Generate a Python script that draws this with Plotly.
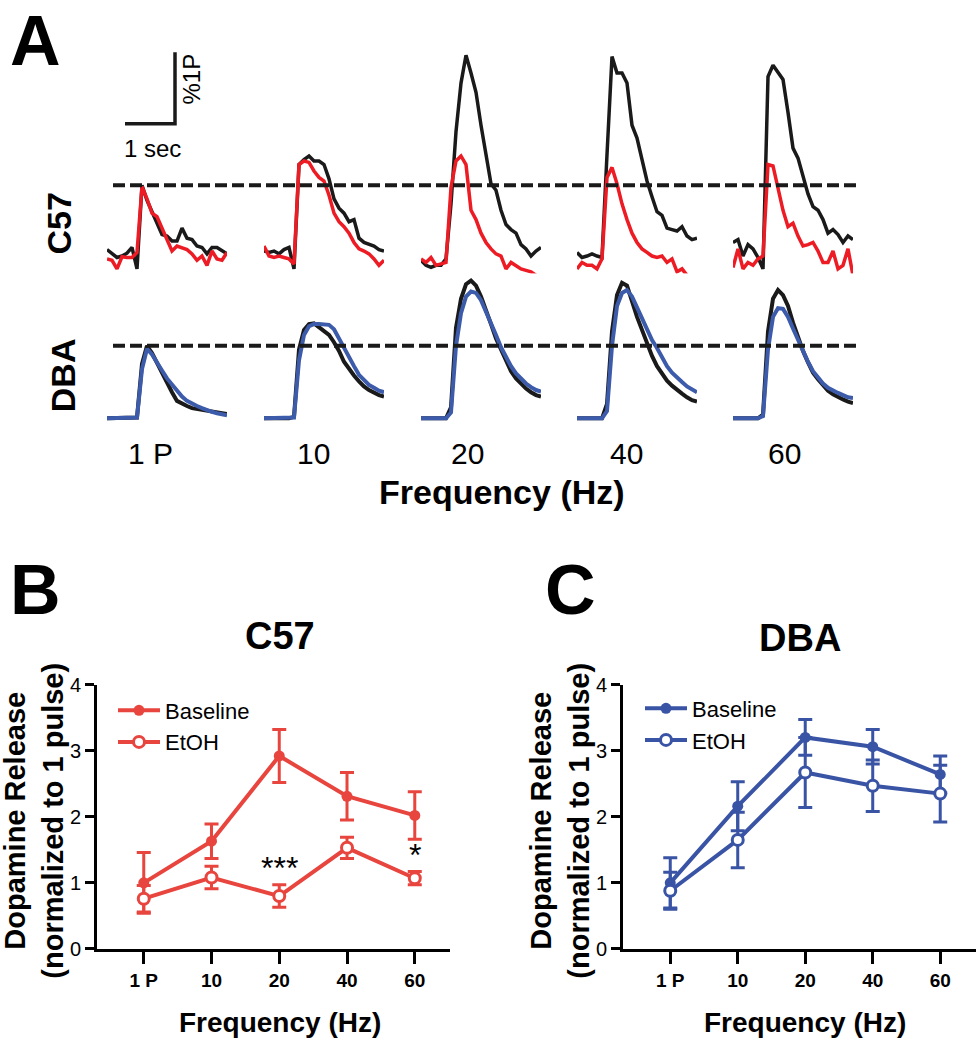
import plotly.graph_objects as go

# ---------------- DATA ----------------
# Panel A: time base (s) of every averaged trace
T = [0.0, 0.1, 0.2, 0.3, 0.4, 0.5, 0.6, 0.7, 0.8, 0.9, 1.0, 1.1, 1.2,
     1.3, 1.4, 1.5, 1.6, 1.7, 1.8, 1.9, 2.0, 2.1, 2.2, 2.3, 2.4]
FREQ_LABELS = ["1 P", "10", "20", "40", "60"]

# C57 traces (% of 1 pulse): baseline (black) and EtOH (red)
C57_BASE_1P = [10, 4, -1, 1, 5, 13, -17, 100, 79, 63, 47, 31, 29, 22, 22, 40, 26, 24, 15, 13, 4, 13, 13, 8, 4]
C57_ETOH_1P = [-3, -5, -17, 0, -1, -1, 6, 98, 81, 61, 56, 40, 26, 8, 15, 13, 10, 4, -5, 1, -12, 8, -3, -5, 6]
C57_BASE_10 = [8, 6, 8, 4, 10, 13, -17, 129, 136, 141, 134, 134, 129, 109, 81, 68, 61, 49, 52, 26, 20, 17, 15, 10, 8]
C57_ETOH_10 = [15, 1, -1, 1, -1, -3, -10, 129, 134, 132, 120, 111, 106, 86, 61, 49, 42, 33, 20, 11, 8, 4, -3, -12, -5]
C57_BASE_20 = [-5, -12, -15, -12, -12, -3, 74, 175, 243, 282, 257, 230, 184, 143, 102, 93, 65, 45, 38, 33, 17, 11, 1, 8, 13]
C57_ETOH_20 = [-3, -8, -1, -12, -10, -8, 97, 134, 141, 129, 65, 52, 33, 20, 11, 4, 1, -17, -8, -12, -17, -19, -21, -26, -35]
C57_BASE_40 = [6, -1, 1, 4, 1, -1, 143, 280, 257, 257, 243, 184, 166, 134, 106, 84, 63, 58, 40, 38, 36, 42, 29, 24, 26]
C57_ETOH_40 = [-17, -8, -12, -12, -17, -3, 111, 125, 102, 74, 52, 33, 20, 11, 6, 1, -1, 1, -8, -3, -21, -17, -26, -38, -30]
C57_BASE_60 = [20, 24, 1, 17, 11, -1, -17, 252, 268, 257, 248, 202, 152, 138, 111, 88, 70, 65, 52, 33, 38, 31, 20, 29, 24]
C57_ETOH_60 = [-15, 11, -17, -8, -12, -3, 1, 129, 127, 97, 65, 42, 47, 29, 15, 17, 20, 8, -8, -8, 8, -17, -12, 11, -26]

# DBA traces (% of 1 pulse): baseline (black) and EtOH (blue)
DBA_BASE_1P = [0, 0, 0, 0, 0, 0, 1, 75, 100, 90, 76, 62, 49, 36, 24, 20, 17, 14, 13, 12, 10, 9, 8, 7, 6]
DBA_ETOH_1P = [0, 0, 0, 0, 0, 0, 1, 68, 96, 88, 78, 66, 55, 46, 37, 30, 24, 20, 17, 14, 11, 9, 7, 6, 4]
DBA_BASE_10 = [0, 0, 0, 0, 0, 0, 2, 95, 122, 130, 131, 126, 121, 115, 105, 93, 78, 68, 59, 51, 44, 39, 35, 32, 30]
DBA_ETOH_10 = [0, 0, 0, 0, 0, 0, 1, 80, 115, 127, 130, 130, 130, 129, 123, 110, 97, 83, 72, 60, 52, 46, 42, 38, 36]
DBA_BASE_20 = [0, 0, 0, 0, 0, 0, 15, 125, 165, 185, 190, 183, 168, 150, 130, 110, 95, 80, 65, 55, 47, 41, 36, 32, 30]
DBA_ETOH_20 = [0, 0, 0, 0, 0, 0, 8, 100, 145, 168, 175, 173, 163, 148, 132, 115, 98, 85, 72, 62, 54, 48, 43, 39, 37]
DBA_BASE_40 = [0, 0, 0, 0, 0, 0, 20, 120, 170, 187, 183, 160, 140, 122, 104, 86, 72, 61, 52, 45, 39, 34, 29, 25, 23]
DBA_ETOH_40 = [0, 0, 0, 0, 0, 0, 10, 100, 155, 173, 177, 168, 153, 137, 122, 108, 97, 85, 72, 63, 56, 50, 44, 40, 36]
DBA_BASE_60 = [0, 0, 0, 0, 0, 0, 5, 120, 165, 177, 170, 155, 132, 112, 93, 77, 63, 54, 46, 38, 33, 29, 26, 23, 21]
DBA_ETOH_60 = [0, 0, 0, 0, 0, 0, 3, 95, 140, 152, 151, 140, 124, 108, 92, 78, 65, 56, 48, 42, 38, 35, 32, 29, 28]

C57_BASE_TRACES = [C57_BASE_1P, C57_BASE_10, C57_BASE_20, C57_BASE_40, C57_BASE_60]
C57_ETOH_TRACES = [C57_ETOH_1P, C57_ETOH_10, C57_ETOH_20, C57_ETOH_40, C57_ETOH_60]
DBA_BASE_TRACES = [DBA_BASE_1P, DBA_BASE_10, DBA_BASE_20, DBA_BASE_40, DBA_BASE_60]
DBA_ETOH_TRACES = [DBA_ETOH_1P, DBA_ETOH_10, DBA_ETOH_20, DBA_ETOH_40, DBA_ETOH_60]

# Panels B / C: dopamine release normalised to 1 pulse (mean, SEM)
C57_BASE_MEAN = [1.00, 1.63, 2.92, 2.31, 2.02]
C57_BASE_SEM = [0.46, 0.26, 0.40, 0.36, 0.36]
C57_ETOH_MEAN = [0.76, 1.08, 0.80, 1.53, 1.07]
C57_ETOH_SEM = [0.20, 0.17, 0.17, 0.16, 0.10]
DBA_BASE_MEAN = [1.00, 2.16, 3.20, 3.06, 2.64]
DBA_BASE_SEM = [0.38, 0.37, 0.27, 0.26, 0.28]
DBA_ETOH_MEAN = [0.88, 1.65, 2.67, 2.47, 2.35]
DBA_ETOH_SEM = [0.28, 0.42, 0.53, 0.39, 0.43]
SIG_LABELS = ["", "", "***", "", "*"]

SCALE_SEC = 1.0     # scale bar, seconds
SCALE_PCT = 100     # scale bar, % of 1 pulse

# ---------------- STYLE / LAYOUT ----------------
W, H = 976, 1050
FONT = "Liberation Sans, Arial, Helvetica, sans-serif"
BLACK = "#1a1a1a"
RED_A = "#ED1C24"
BLUE_A = "#3C5BAA"
RED = "#E8453E"
BLUE = "#3953A5"


def px(x):
    return x / W


def py(y):
    return 1 - y / H


fig = go.Figure()
layout = dict(
    width=W, height=H, margin=dict(l=0, r=0, t=0, b=0),
    paper_bgcolor="white", plot_bgcolor="white",
    font=dict(family=FONT, color="black"),
    showlegend=True,
)

COL_LEFT = [107, 264, 421, 577, 733]
COL_W = 120
C57_RANGE = [-45, 300]
C57_PIX = (283.85, 32.0)        # pixel rows of range ends
DBA_RANGE = [-20, 200]
DBA_PIX = (430.8, 268.0)


def hidden_axes(n, left, pix, yrange):
    layout["xaxis" if n == 1 else f"xaxis{n}"] = dict(
        domain=[px(left), px(left + COL_W)], range=[0, 2.4], visible=False,
        anchor=f"y{n}" if n > 1 else "y", fixedrange=True)
    layout["yaxis" if n == 1 else f"yaxis{n}"] = dict(
        domain=[py(pix[0]), py(pix[1])], range=yrange, visible=False,
        anchor=f"x{n}" if n > 1 else "x", fixedrange=True)


def ax_id(n):
    return ("x" if n == 1 else f"x{n}"), ("y" if n == 1 else f"y{n}")


for i in range(5):
    hidden_axes(i + 1, COL_LEFT[i], C57_PIX, C57_RANGE)
    hidden_axes(i + 6, COL_LEFT[i], DBA_PIX, DBA_RANGE)

for i in range(5):
    xa, ya = ax_id(i + 1)
    fig.add_trace(go.Scatter(x=T, y=C57_BASE_TRACES[i], mode="lines", xaxis=xa, yaxis=ya,
                             line=dict(color=BLACK, width=3.5), showlegend=False, hoverinfo="skip"))
    fig.add_trace(go.Scatter(x=T, y=C57_ETOH_TRACES[i], mode="lines", xaxis=xa, yaxis=ya,
                             line=dict(color=RED_A, width=3.5), showlegend=False, hoverinfo="skip"))
    xa, ya = ax_id(i + 6)
    fig.add_trace(go.Scatter(x=T, y=DBA_BASE_TRACES[i], mode="lines", xaxis=xa, yaxis=ya,
                             line=dict(color=BLACK, width=4), showlegend=False, hoverinfo="skip"))
    fig.add_trace(go.Scatter(x=T, y=DBA_ETOH_TRACES[i], mode="lines", xaxis=xa, yaxis=ya,
                             line=dict(color=BLUE_A, width=4), showlegend=False, hoverinfo="skip"))

shapes = []
# dashed 100 % lines
shapes.append(dict(type="line", xref="paper", yref="y", x0=px(113), x1=px(856), y0=100, y1=100,
                   line=dict(color=BLACK, width=4, dash="12px,5px")))
shapes.append(dict(type="line", xref="paper", yref="y6", x0=px(113), x1=px(856), y0=100, y1=100,
                   line=dict(color=BLACK, width=4, dash="12px,5px")))
# scale bar (in C57 1P axes)
sb_t0, sb_v0 = 0.36, 186
shapes.append(dict(type="path", xref="x", yref="y",
                   path=f"M {sb_t0},{sb_v0} L {sb_t0 + SCALE_SEC},{sb_v0} L {sb_t0 + SCALE_SEC},{sb_v0 + SCALE_PCT}",
                   line=dict(color=BLACK, width=3.5)))

annotations = []


def ann(text, x, y, size, bold=False, angle=0, xanchor="center", yanchor="middle", **kw):
    d = dict(text=(f"<b>{text}</b>" if bold else text), x=x, y=y, xref=kw.pop("xref", "paper"),
             yref=kw.pop("yref", "paper"), showarrow=False, textangle=angle,
             xanchor=xanchor, yanchor=yanchor, font=dict(size=size, family=FONT, color="black"))
    d.update(kw)
    annotations.append(d)


ann("A", px(35), py(31), 70, bold=True)
ann("B", px(35), py(591), 70, bold=True)
ann("C", px(570), py(591), 70, bold=True)
ann("1 sec", px(152), py(140), 24)
ann("%1P", px(192), py(70), 24, angle=-90)
ann("C57", px(59), py(217), 34, bold=True, angle=-90)
ann("DBA", px(63), py(372), 34, bold=True, angle=-90)
FREQ_LABEL_X = [150, 313, 467, 626, 784]
for i, lab in enumerate(FREQ_LABELS):
    ann(lab, px(FREQ_LABEL_X[i]), py(452), 30)
ann("Frequency (Hz)", px(502), py(491), 34, bold=True)

# ---------------- Panels B, C ----------------
def stat_axes(n, left, right, xrange):
    common = dict(showline=True, linewidth=3, linecolor="black", ticks="outside", tickwidth=3,
                  tickcolor="black", showgrid=False, zeroline=False, fixedrange=True)
    layout[f"xaxis{n}"] = dict(domain=[px(left), px(right)], anchor=f"y{n}", type="category",
                               categoryorder="array", categoryarray=FREQ_LABELS, range=xrange,
                               ticklen=12, tickfont=dict(size=19, family=FONT, weight="bold"), **common)
    layout[f"yaxis{n}"] = dict(domain=[py(958), py(688)], anchor=f"x{n}", range=[0, 4],
                               tickvals=[0, 1, 2, 3, 4], ticklen=9,
                               tickfont=dict(size=20, family=FONT), **common)


stat_axes(11, 97, 450, [-0.69, 4.52])
stat_axes(12, 623, 976, [-0.70, 4.53])


def stat_trace(n, mean, sem, color, name, open_marker, legend):
    fig.add_trace(go.Scatter(
        x=FREQ_LABELS, y=mean, name=name, mode="lines+markers",
        xaxis=f"x{n}", yaxis=f"y{n}", legend=legend,
        line=dict(color=color, width=4),
        marker=dict(size=11, color="white" if open_marker else color,
                    line=dict(color=color, width=3 if open_marker else 0)),
        error_y=dict(type="data", array=sem, visible=True, color=color, thickness=3, width=7),
        cliponaxis=False))


stat_trace(11, C57_BASE_MEAN, C57_BASE_SEM, RED, "Baseline", False, "legend")
stat_trace(11, C57_ETOH_MEAN, C57_ETOH_SEM, RED, "EtOH", True, "legend")
stat_trace(12, DBA_BASE_MEAN, DBA_BASE_SEM, BLUE, "Baseline", False, "legend2")
stat_trace(12, DBA_ETOH_MEAN, DBA_ETOH_SEM, BLUE, "EtOH", True, "legend2")

for i, s in enumerate(SIG_LABELS):
    if s:
        ann(s, i, C57_ETOH_MEAN[i] + C57_ETOH_SEM[i] + 0.25, 32,
            xref="x11", yref="y11")

legend_common = dict(font=dict(size=22, family=FONT, color="black"), bgcolor="rgba(0,0,0,0)",
                     itemwidth=42, xanchor="left", yanchor="top", tracegroupgap=0,
                     itemclick=False, itemdoubleclick=False)
layout["legend"] = dict(x=px(113), y=py(693), **legend_common)
layout["legend2"] = dict(x=px(640), y=py(691), **legend_common)

ann("C57", px(280), py(638), 38, bold=True)
ann("DBA", px(800), py(640), 38, bold=True)
ann("Dopamine Release<br>(normalized to 1 pulse)", px(34), py(827), 29, bold=True, angle=-90)
ann("Dopamine Release<br>(normalized to 1 pulse)", px(560), py(827), 29, bold=True, angle=-90)
ann("Frequency (Hz)", px(280), py(1033), 28, bold=True)
ann("Frequency (Hz)", px(805), py(1033), 28, bold=True)

layout["shapes"] = shapes
layout["annotations"] = annotations
fig.update_layout(**layout)
fig.write_html("out.html", config={"displayModeBar": False},
               post_script="document.body.style.margin='0px';")
